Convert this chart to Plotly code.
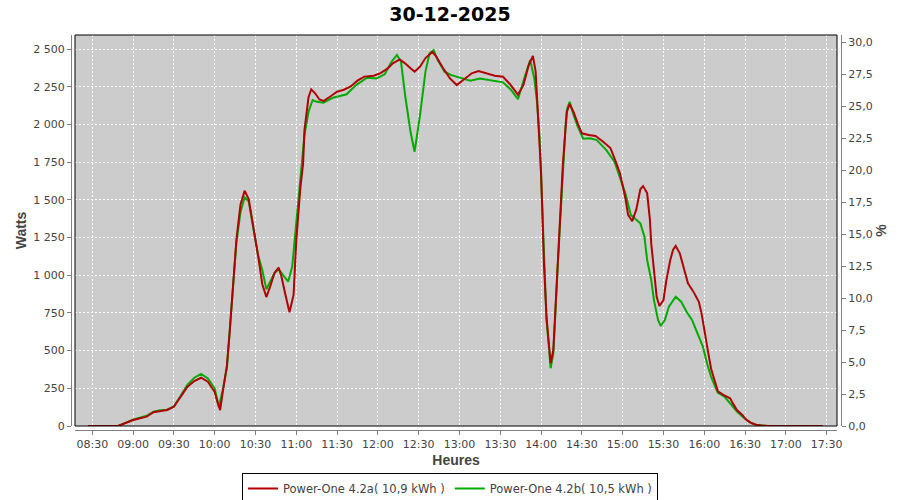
import plotly.graph_objects as go

DAY = "2025-12-30"
TITLE = "30-12-2025"

red_name = "Power-One 4.2a( 10,9 kWh )"
red_times = [
    "08:27", "08:49", "09:00", "09:05", "09:10", "09:15", "09:20", "09:25", "09:30", "09:35",
    "09:40", "09:45", "09:50", "09:55", "10:00", "10:02", "10:04", "10:06", "10:09", "10:11",
    "10:14", "10:16", "10:19", "10:22", "10:25", "10:27", "10:30", "10:32", "10:35", "10:38",
    "10:41", "10:44", "10:47", "10:49", "10:52", "10:55", "10:58", "11:00", "11:03", "11:05",
    "11:06", "11:09", "11:11", "11:14", "11:17", "11:20", "11:25", "11:30", "11:35", "11:40",
    "11:45", "11:50", "11:57", "12:02", "12:07", "12:11", "12:16", "12:20", "12:24", "12:27",
    "12:31", "12:35", "12:40", "12:43", "12:48", "12:53", "12:58", "13:03", "13:09", "13:14",
    "13:20", "13:26", "13:32", "13:37", "13:43", "13:47", "13:51", "13:54", "13:56", "13:57",
    "13:59", "14:00", "14:01", "14:02", "14:04", "14:06", "14:07", "14:09", "14:10", "14:12",
    "14:14", "14:16", "14:18", "14:19", "14:21", "14:24", "14:27", "14:30", "14:35", "14:40",
    "14:45", "14:51", "14:54", "14:58", "15:02", "15:04", "15:07", "15:10", "15:13", "15:15",
    "15:18", "15:20", "15:21", "15:23", "15:25", "15:27", "15:30", "15:32", "15:35", "15:37",
    "15:39", "15:42", "15:45", "15:48", "15:52", "15:56", "15:58", "16:00", "16:03", "16:05",
    "16:08", "16:10", "16:14", "16:19", "16:21", "16:24", "16:28", "16:31", "16:35", "16:38",
    "16:42", "16:48", "17:27",
]
red_watts = [
    0, 0, 40, 51, 62, 91, 101, 106, 128, 194,
    260, 298, 320, 294, 225, 160, 105, 230, 400, 620,
    990, 1240, 1470, 1560, 1505, 1400, 1240, 1123, 940, 855,
    930, 1015, 1050, 995, 870, 755, 870, 1230, 1580, 1740,
    1960, 2180, 2233, 2205, 2165, 2155, 2185, 2217, 2230, 2252,
    2290, 2317, 2323, 2340, 2370, 2405, 2431, 2405, 2372, 2350,
    2383, 2440, 2481, 2449, 2372, 2305, 2261, 2294, 2339, 2354,
    2339, 2323, 2316, 2268, 2197, 2260, 2395, 2455, 2350, 2173,
    1900, 1676, 1400, 1100, 720, 510, 416, 504, 690, 1050,
    1370, 1730, 1975, 2084, 2135, 2080, 2005, 1941, 1930, 1923,
    1890, 1843, 1775, 1676, 1510, 1400, 1359, 1435, 1570, 1591,
    1545, 1370, 1211, 1013, 857, 796, 835, 960, 1101, 1167,
    1194, 1145, 1046, 946, 891, 824, 747, 630, 482, 380,
    283, 230, 206, 184, 150, 106, 73, 40, 18, 9,
    3, 0, 0,
]

green_name = "Power-One 4.2b( 10,5 kWh )"
green_times = [
    "08:27", "08:49", "09:00", "09:05", "09:10", "09:15", "09:20", "09:25", "09:30", "09:35",
    "09:40", "09:45", "09:50", "09:55", "10:00", "10:03", "10:06", "10:09", "10:11", "10:14",
    "10:16", "10:19", "10:22", "10:25", "10:27", "10:30", "10:32", "10:35", "10:38", "10:41",
    "10:44", "10:47", "10:50", "10:54", "10:57", "11:00", "11:03", "11:06", "11:09", "11:12",
    "11:15", "11:20", "11:27", "11:37", "11:44", "11:52", "11:59", "12:05", "12:10", "12:14",
    "12:17", "12:20", "12:24", "12:27", "12:31", "12:35", "12:38", "12:41", "12:44", "12:49",
    "12:54", "13:00", "13:08", "13:15", "13:22", "13:32", "13:38", "13:43", "13:48", "13:52",
    "13:55", "13:57", "13:59", "14:00", "14:01", "14:02", "14:04", "14:06", "14:07", "14:09",
    "14:10", "14:12", "14:14", "14:16", "14:18", "14:19", "14:21", "14:24", "14:27", "14:31",
    "14:36", "14:41", "14:48", "14:54", "14:58", "15:02", "15:06", "15:10", "15:13", "15:16",
    "15:18", "15:21", "15:23", "15:26", "15:28", "15:31", "15:34", "15:39", "15:43", "15:47",
    "15:51", "15:55", "15:59", "16:02", "16:05", "16:08", "16:10", "16:15", "16:20", "16:24",
    "16:29", "16:34", "16:38", "16:45", "17:27",
]
green_watts = [
    0, 0, 42, 55, 68, 95, 105, 108, 130, 200,
    275, 320, 345, 315, 250, 128, 240, 390, 620, 960,
    1220, 1420, 1516, 1490, 1380, 1222, 1130, 1034, 906, 960,
    1015, 1039, 1001, 957, 1056, 1344, 1631, 1930, 2084, 2162,
    2150, 2144, 2177, 2200, 2261, 2310, 2305, 2332, 2416, 2460,
    2416, 2195, 1951, 1819, 2062, 2350, 2471, 2493, 2427, 2350,
    2327, 2310, 2290, 2305, 2294, 2279, 2228, 2168, 2316, 2427,
    2305, 2150, 1900, 1650, 1380, 1080, 700, 500, 383, 480,
    680, 1020, 1350, 1720, 1990, 2100, 2150, 2060, 1985, 1905,
    1908, 1896, 1830, 1753, 1653, 1543, 1399, 1371, 1344, 1255,
    1101, 968, 835, 703, 663, 703, 791, 857, 824, 758,
    703, 615, 526, 416, 327, 261, 221, 194, 139, 95,
    55, 22, 8, 0, 0,
]

x_range = ["08:17:17", "17:37:36"]
watts_range = [0, 2593]
pct_range = [0, 30.55]


def stamp(times):
    return [f"{DAY} {t}" for t in times]


fig = go.Figure()

fig.add_trace(go.Scatter(
    x=stamp(green_times), y=green_watts, mode="lines", name=green_name,
    line=dict(color="#00AA00", width=2), legendrank=2,
))
fig.add_trace(go.Scatter(
    x=stamp(red_times), y=red_watts, mode="lines", name=red_name,
    line=dict(color="#B00000", width=2), legendrank=1,
))
# empty series so the % axis gets drawn
fig.add_trace(go.Scatter(x=[], y=[], yaxis="y2", showlegend=False, hoverinfo="skip"))

tick_font = dict(family="DejaVu Sans", size=11, color="#444444")
title_font = dict(family="Liberation Sans", size=14, color="#444444")
grid = dict(gridcolor="white", griddash="2px,2px", gridwidth=1)

fig.update_layout(
    width=900, height=500,
    margin=dict(l=71, r=59, t=35, b=70, autoexpand=False),
    paper_bgcolor="white",
    plot_bgcolor="#CCCCCC",
    separators=", ",
    title=dict(
        text=f"<b>{TITLE}</b>", x=0.5, xref="container", xanchor="center",
        y=1 - 14 / 500, yref="container", yanchor="middle",
        font=dict(family="DejaVu Sans", size=19, color="black"),
    ),
    xaxis=dict(
        type="date", domain=[4 / 770, 766 / 770], anchor="free", position=0,
        range=[f"{DAY} {x_range[0]}", f"{DAY} {x_range[1]}"],
        tick0=f"{DAY} 08:30", dtick=30 * 60 * 1000, tickformat="%H:%M", tickangle=0,
        ticks="outside", ticklen=4, tickcolor="#808080",
        showline=True, linecolor="#808080", linewidth=1,
        tickfont=tick_font, zeroline=False, automargin=False,
        title=dict(text="<b>Heures</b>", font=title_font, standoff=4),
        **grid,
    ),
    yaxis=dict(
        domain=[4 / 395, 1], anchor="free", position=0,
        range=watts_range, dtick=250, tick0=0,
        separatethousands=True, tickformat=",d",
        ticks="outside", ticklen=4, tickcolor="#808080",
        showline=True, linecolor="#808080", linewidth=1,
        tickfont=tick_font, zeroline=False, automargin=False,
        title=dict(text="<b>Watts</b>", font=title_font, standoff=2),
        **grid,
    ),
    yaxis2=dict(
        overlaying="y", side="right", anchor="free", position=1,
        range=pct_range, dtick=2.5, tick0=0, tickformat=".1f",
        ticks="outside", ticklen=4, tickcolor="#808080",
        showline=True, linecolor="#808080", linewidth=1,
        tickfont=tick_font, showgrid=False, zeroline=False, automargin=False,
        title=dict(text="<b>%</b>", font=title_font, standoff=0),
    ),
    legend=dict(
        orientation="h", x=(450 - 71) / 770, xanchor="center",
        y=-43 / 395, yanchor="top",
        bordercolor="black", borderwidth=1, bgcolor="white",
        font=dict(family="DejaVu Sans", size=11.5, color="#444444"),
        itemwidth=30, tracegroupgap=0,
    ),
    showlegend=True,
)

# black frame around the plotting area
fig.add_shape(
    type="rect", xref="x domain", yref="y domain", x0=0, x1=1, y0=0, y1=1,
    line=dict(color="black", width=1), layer="above",
)

# the page's default 8px body margin would push the 900x500 figure off-window
fig.write_html(
    "out.html",
    config={"displayModeBar": False},
    post_script="document.body.style.margin = '0';",
)
